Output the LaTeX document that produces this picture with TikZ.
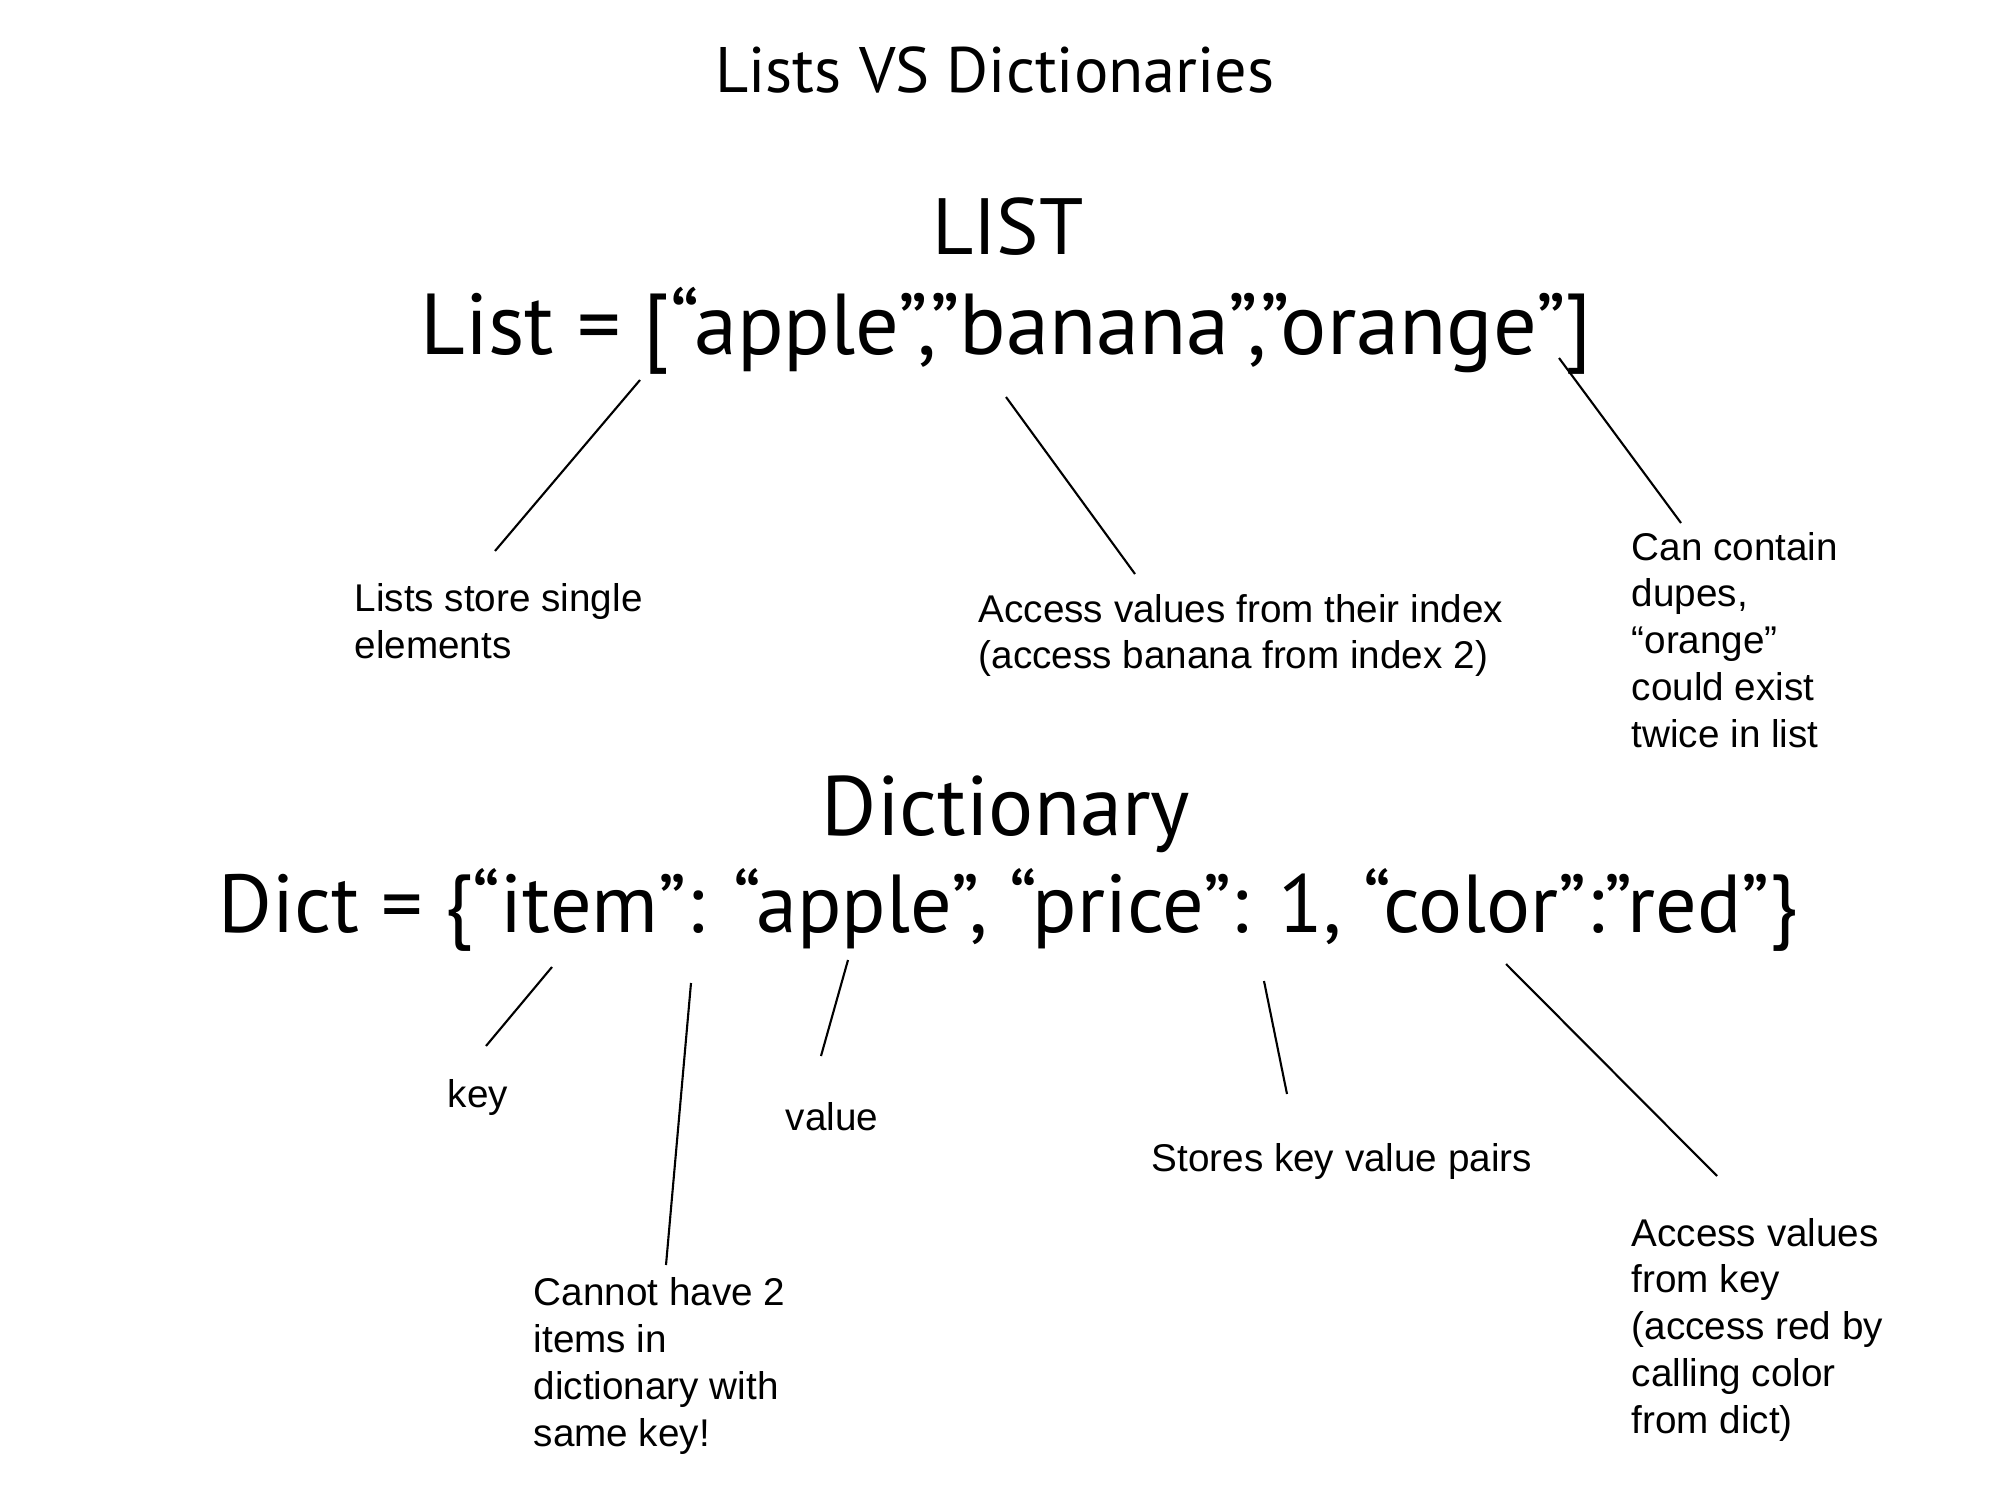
\documentclass[tikz,border=0pt]{standalone}
\usepackage{fontspec}
\setmainfont{Liberation Sans}
\newfontfamily\slidefont{PT Sans}
\usetikzlibrary{positioning}
\tikzset{
    heading/.style={font=\slidefont\fontsize{18.3}{22}\selectfont, inner sep=0pt, anchor=base},
    bigtext/.style={font=\slidefont\fontsize{23.4}{28}\selectfont, inner sep=0pt, anchor=base},
    % multi-line notes sit on the baseline of their last line
    note/.style={font=\fontsize{11}{13.3}\selectfont, align=left, inner sep=0pt, anchor=base west},
    pointer/.style={line width=0.6pt, black}
}

\begin{document}
\begin{tikzpicture}
    \useasboundingbox (0,0) rectangle (20,15);
    \fill[white] (0,0) rectangle (20,15);

    % headings and code
    \node[heading] (title) at (9.95,14.07) {Lists VS Dictionaries};
    \node[bigtext, font=\slidefont\fontsize{22.7}{28}\selectfont] (list_hd) at (10.08,12.45) {LIST};
    \node[bigtext, font=\slidefont\fontsize{24.6}{29}\selectfont] (list_code) at (10.06,11.45) {List = [“apple”,”banana”,”orange”]};
    \node[bigtext, font=\slidefont\fontsize{24}{29}\selectfont] (dict_hd) at (10.06,6.65) {Dictionary};
    \node[bigtext] (dict_code) at (10.08,5.68) {Dict = \{“item”: “apple”, “price”: 1, “color”:”red”\}};

    % notes for the list
    \node[note] (note_single) at (3.54,8.42) {Lists store single\\elements};
    \node[note] (note_index) at (9.78,8.31) {Access values from their index\\(access banana from index 2)};
    \node[note] (note_dupes) at (16.31,7.53) {Can contain\\dupes,\\“orange”\\could exist\\twice in list};

    % notes for the dictionary
    \node[note] (note_key) at (4.47,3.93) {key};
    \node[note] (note_value) at (7.85,3.70) {value};
    \node[note] (note_pairs) at (11.51,3.29) {Stores key value pairs};
    \node[note] (note_unique) at (5.33,0.54) {Cannot have 2\\items in\\dictionary with\\same key!};
    \node[note] (note_lookup) at (16.31,0.67) {Access values\\from key\\(access red by\\calling color\\from dict)};

    % pointer ends
    \coordinate (c_apple) at (6.40,11.20);
    \coordinate (c_single) at (4.95,9.49);
    \coordinate (c_banana) at (10.06,11.03);
    \coordinate (c_index) at (11.35,9.26);
    \coordinate (c_orange) at (15.59,11.42);
    \coordinate (c_dupes) at (16.81,9.77);
    \coordinate (c_item) at (5.52,5.33);
    \coordinate (c_key) at (4.86,4.54);
    \coordinate (c_colon) at (6.91,5.17);
    \coordinate (c_unique) at (6.66,2.35);
    \coordinate (c_apple2) at (8.48,5.40);
    \coordinate (c_value) at (8.21,4.44);
    \coordinate (c_price) at (12.64,5.19);
    \coordinate (c_pairs) at (12.87,4.06);
    \coordinate (c_red) at (15.06,5.36);
    \coordinate (c_lookup) at (17.17,3.24);

    \draw[pointer] (c_apple) -- (c_single);
    \draw[pointer] (c_banana) -- (c_index);
    \draw[pointer] (c_orange) -- (c_dupes);
    \draw[pointer] (c_item) -- (c_key);
    \draw[pointer] (c_colon) -- (c_unique);
    \draw[pointer] (c_apple2) -- (c_value);
    \draw[pointer] (c_price) -- (c_pairs);
    \draw[pointer] (c_red) -- (c_lookup);
\end{tikzpicture}
\end{document}
